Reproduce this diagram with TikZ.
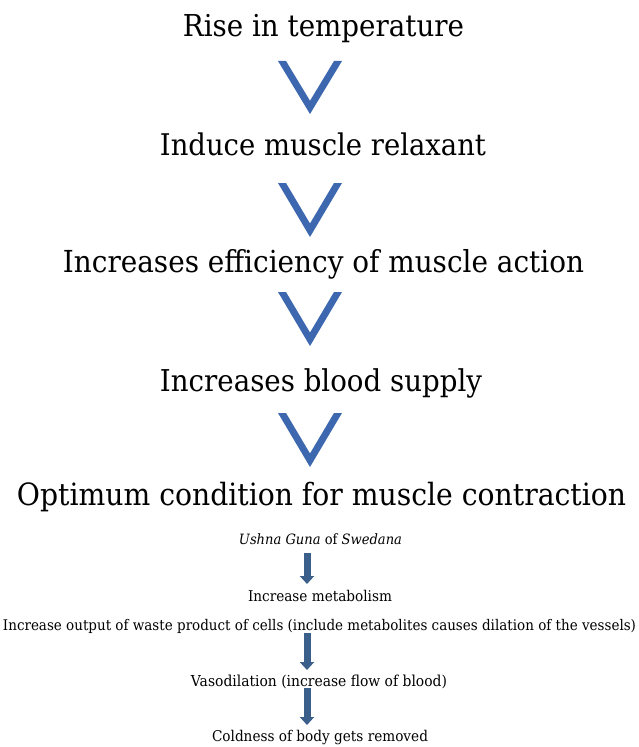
\documentclass[tikz,border=0pt]{standalone}
\usepackage{fontspec}
\setmainfont{DejaVu Serif}[FakeStretch=0.92]
\usepackage{graphicx}
\usetikzlibrary{arrows.meta}
\definecolor{chevblue}{RGB}{61,104,176}
\definecolor{arrblue}{RGB}{58,95,139}
\newcommand\fitw[2]{\resizebox{#1bp}{!}{#2}}
\newcommand\chevron[3]{%
  \fill[chevblue] (#1-32,#2) -- (#1,#3) -- (#1+32,#2) -- (#1+24,#2)
    -- (#1,{#3-0.25*(#3-#2)}) -- (#1-24,#2) -- cycle;}
\tikzset{
  txt/.style={anchor=base, inner sep=0pt, text=black},
  barrow/.style={draw=arrblue, line width=7bp, -{Triangle[width=14bp,length=8bp]}}
}
\begin{document}
\begin{tikzpicture}[x=1bp,y=-1bp]
\useasboundingbox (0,0) rectangle (639,747);
\fill[white] (0,0) rectangle (639,747);
% upper chain
\node[txt] (t1) at (323.5,37) {\fitw{281}{Rise in temperature}};
\node[txt] (t2) at (323,155) {\fitw{326}{Induce muscle relaxant}};
\node[txt] (t3) at (323.5,272) {\fitw{521}{Increases efficiency of muscle action}};
\node[txt] (t4) at (321,391) {\fitw{322}{Increases blood supply}};
\node[txt] (t5) at (321.5,505) {\fitw{609}{Optimum condition for muscle contraction}};
\chevron{310}{61}{114}
\chevron{310}{183}{237}
\chevron{310}{292}{346}
\chevron{310}{413}{467}
% lower chain
\node[txt] (b1) at (320.5,544) {\fitw{163}{\textit{Ushna Guna} of \textit{Swedana}}};
\node[txt] (b2) at (320,601) {\fitw{144}{Increase metabolism}};
\node[txt] (b3) at (319.5,630) {\fitw{633}{Increase output of waste product of cells (include metabolites causes dilation of the vessels)}};
\node[txt] (b4) at (319,686) {\fitw{256}{Vasodilation (increase flow of blood)}};
\node[txt] (b5) at (320,741) {\fitw{216}{Coldness of body gets removed}};
\coordinate (a1s) at (307,553);
\coordinate (a1e) at (307,584);
\coordinate (a2s) at (307,633);
\coordinate (a2e) at (307,670);
\coordinate (a3s) at (307,688);
\coordinate (a3e) at (307,725);
\draw[barrow] (a1s) -- (a1e);
\draw[barrow] (a2s) -- (a2e);
\draw[barrow] (a3s) -- (a3e);
\end{tikzpicture}
\end{document}
